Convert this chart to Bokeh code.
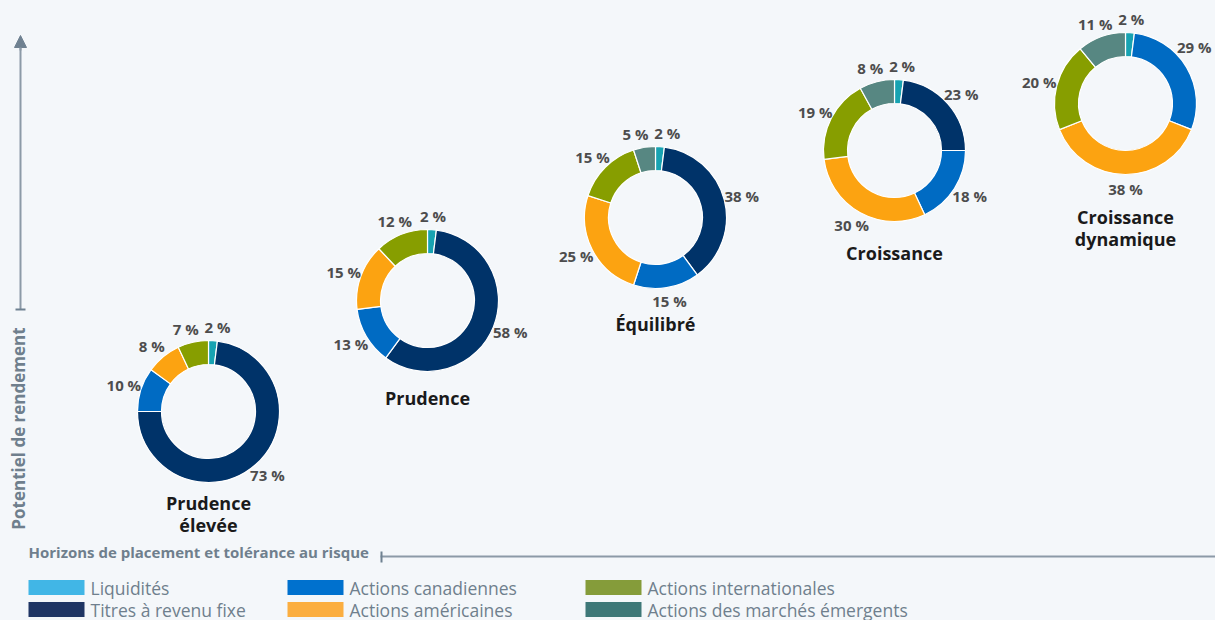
import numpy as np
from bokeh.plotting import figure
from bokeh.models import Range1d, Arrow, NormalHead, ColumnDataSource
from bokeh.core.properties import value
from bokeh.embed import file_html
from bokeh.resources import INLINE

# ---------------- data ----------------
profiles = ["Prudence\nélevée", "Prudence", "Équilibré", "Croissance", "Croissance\ndynamique"]
categories = ["Liquidités", "Titres à revenu fixe", "Actions canadiennes",
              "Actions américaines", "Actions internationales", "Actions des marchés émergents"]
liquidites = [2, 2, 2, 2, 2]
revenu_fixe = [73, 58, 38, 23, 0]
canadiennes = [10, 13, 15, 18, 29]
americaines = [8, 15, 25, 30, 38]
internationales = [7, 12, 15, 19, 20]
emergents = [0, 0, 5, 8, 11]
y_axis_title = "Potentiel de rendement"
x_axis_title = "Horizons de placement et tolérance au risque"

series = [liquidites, revenu_fixe, canadiennes, americaines, internationales, emergents]

# ---------------- styles / layout ----------------
W, H = 1215, 620
BG = "#f4f7fa"
slice_colors = ["#17a3b2", "#003369", "#006bc3", "#fca311", "#879e00", "#578782"]
legend_colors = ["#41b6e6", "#1f3564", "#0071ce", "#fbae40", "#859c3a", "#3e7878"]
FONT = "Open Sans"
AXIS_COL = "#8c9aa7"
TXT_GREY = "#6f7f8d"

centers_px = [(208, 411), (427, 300), (655, 217), (894, 150), (1125, 103)]
title_dy = [91, 97, 106, 102, 113]
R_OUT, R_IN = 71, 47
LBL_RX, LBL_RY = 89, 85
CHAR_W = 8.6


def fy(y):
    return H - y


p = figure(width=W, height=H, x_range=Range1d(0, W), y_range=Range1d(0, H),
           output_backend="svg", toolbar_location=None, min_border=0,
           background_fill_color=BG, border_fill_color=BG, outline_line_color=None)
p.axis.visible = False
p.grid.visible = False

# donuts
wx, wy, ws, we, wc = [], [], [], [], []
lx, ly, lt = [], [], []
for k, (cx, cy) in enumerate(centers_px):
    acc = 0.0
    labels = []
    for s, ser in enumerate(series):
        v = ser[k]
        if v <= 0:
            continue
        a0 = acc / 100.0
        a1 = (acc + v) / 100.0
        wx.append(cx)
        wy.append(fy(cy))
        ws.append(np.pi / 2 - 2 * np.pi * a0)
        we.append(np.pi / 2 - 2 * np.pi * a1)
        wc.append(slice_colors[s])
        mid = 2 * np.pi * (a0 + a1) / 2
        labels.append([cx + LBL_RX * np.sin(mid), cy - LBL_RY * np.cos(mid), f"{v} %"])
        acc += v
    # simple overlap resolution between labels of the same donut
    for _ in range(10):
        for i in range(len(labels)):
            for j in range(i + 1, len(labels)):
                a, b = labels[i], labels[j]
                need = (len(a[2]) + len(b[2])) * CHAR_W / 2 + 6
                dx = b[0] - a[0]
                if abs(b[1] - a[1]) < 15 and abs(dx) < need:
                    sh = (need - abs(dx)) / 2
                    sgn = 1 if dx >= 0 else -1
                    a[0] -= sgn * sh
                    b[0] += sgn * sh
    for x, y, t in labels:
        half = len(t) * CHAR_W / 2
        xc = min(max(x, half + 4), W - half - 4)
        if xc != x:
            # slide the label along its circle so it stays clear of the ring
            ddx = min(abs(xc - cx), LBL_RX - 1)
            ddy = np.sqrt(LBL_RX ** 2 - ddx ** 2)
            y = cy - ddy if y < cy else cy + ddy
        lx.append(xc)
        ly.append(fy(y))
        lt.append(t)

src = ColumnDataSource(dict(x=wx, y=wy, s=ws, e=we, c=wc))
p.annular_wedge(x="x", y="y", inner_radius=R_IN, outer_radius=R_OUT,
                start_angle="s", end_angle="e", direction="clock",
                fill_color="c", line_color="white", line_width=1.2, source=src)

p.text(x=lx, y=ly, text=lt, text_font=value(FONT), text_font_size="15px",
       text_font_style="bold", text_color="#4d4d4d", text_align="center",
       text_baseline="middle")

# profile titles
tx = [c[0] for c in centers_px]
ty = [fy(c[1] + d - 12) for c, d in zip(centers_px, title_dy)]
p.text(x=tx, y=ty, text=profiles, text_font=value(FONT), text_font_size="18px",
       text_font_style="bold", text_color="#1a1a1a", text_align="center",
       text_baseline="top", text_line_height=0.95)

# vertical axis arrow
p.segment(x0=[20], y0=[fy(309)], x1=[20], y1=[fy(44)], line_color=AXIS_COL, line_width=2)
p.segment(x0=[15], y0=[fy(309)], x1=[25], y1=[fy(309)], line_color="#6f8191", line_width=2)
p.add_layout(Arrow(end=NormalHead(size=12, fill_color="#6f8191", line_color="#6f8191"),
                   x_start=20, y_start=fy(50), x_end=20, y_end=fy(35),
                   line_color=AXIS_COL, line_width=2))
p.text(x=[18], y=[fy(428)], text=[y_axis_title], angle=np.pi / 2,
       text_font=value(FONT), text_font_size="17px", text_font_style="bold",
       text_color=TXT_GREY, text_align="center", text_baseline="middle")

# horizontal axis
p.segment(x0=[380], y0=[fy(556)], x1=[W], y1=[fy(556)], line_color=AXIS_COL, line_width=2)
p.segment(x0=[381], y0=[fy(551)], x1=[381], y1=[fy(562)], line_color="#6f8191", line_width=2)
p.text(x=[28], y=[fy(551)], text=[x_axis_title], text_font=value(FONT),
       text_font_size="15px", text_font_style="bold", text_color=TXT_GREY,
       text_align="left", text_baseline="middle")

# legend
col_x = [28, 287, 585]
row_y = [587, 609]
sw, sh = 56, 15
qx0, qx1, qt, qb, gtx, gty = [], [], [], [], [], []
for i, name in enumerate(categories):
    x0 = col_x[i // 2]
    yc = row_y[i % 2]
    qx0.append(x0)
    qx1.append(x0 + sw)
    qt.append(fy(yc - sh / 2))
    qb.append(fy(yc + sh / 2))
    gtx.append(x0 + sw + 6)
    gty.append(fy(yc))
p.quad(left=qx0, right=qx1, top=qt, bottom=qb, fill_color=legend_colors, line_color=None)
p.text(x=gtx, y=gty, text=categories, text_font=value(FONT), text_font_size="17.5px",
       text_color=TXT_GREY, text_align="left", text_baseline="middle")

html = file_html(p, INLINE)
html = html.replace("<head>", "<head><style>html,body{margin:0;padding:0;background:%s;overflow:hidden}</style>" % BG, 1)
open("out.html", "w").write(html)
